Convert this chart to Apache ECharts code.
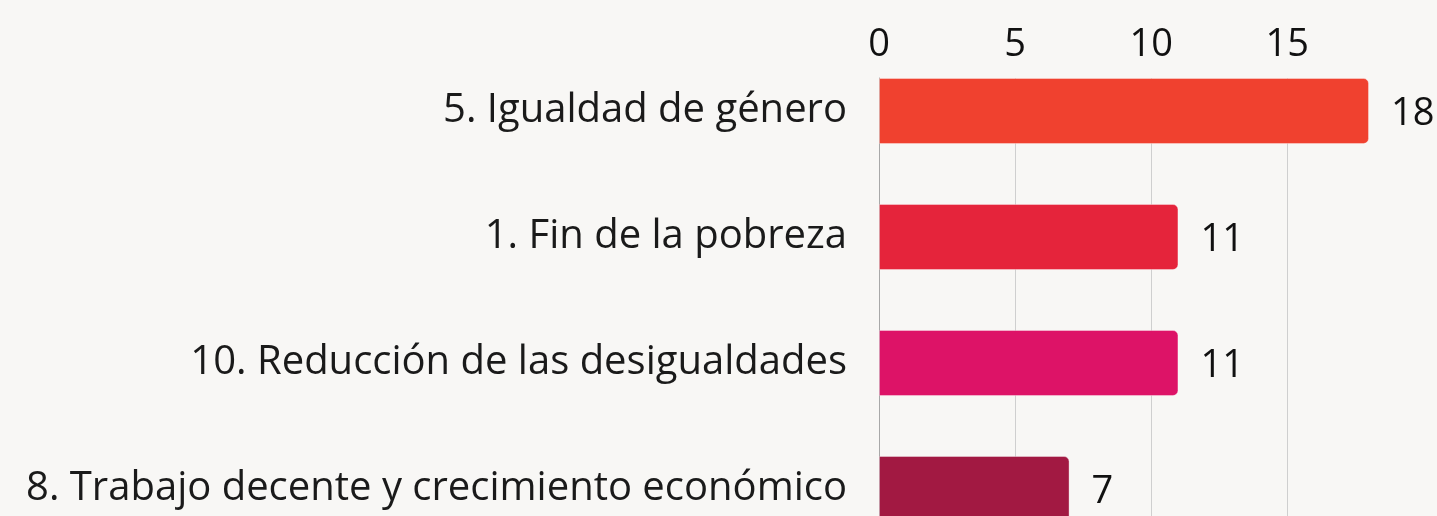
<!DOCTYPE html>
<html>
<head>
<meta charset="utf-8">
<script src="https://cdn.jsdelivr.net/npm/echarts@6/dist/echarts.min.js"></script>
<style>
  html, body { margin: 0; padding: 0; background: #f8f7f5; overflow: hidden; }
  #chart { width: 1437px; height: 600px; }
</style>
</head>
<body>
<div id="chart"></div>
<script>
// datos
var categorias = ['5. Igualdad de género', '1. Fin de la pobreza', '10. Reducción de las desigualdades', '8. Trabajo decente y crecimiento económico'];
var valores = [18, 11, 11, 7];
var colores = ['#f0412f', '#e5243b', '#dd1367', '#a21942'];
var ticksX = [0, 5, 10, 15];

var chart = echarts.init(document.getElementById('chart'));

var option = {
  backgroundColor: '#f8f7f5',
  textStyle: { fontFamily: 'Open Sans' },
  grid: { left: 879, right: 68, top: 78, bottom: 18, containLabel: false },
  xAxis: {
    type: 'value',
    position: 'top',
    min: 0,
    max: 18,
    interval: 5,
    axisLine: { show: false },
    axisTick: { show: false },
    axisLabel: {
      fontSize: 38, color: '#111', margin: 14, showMaxLabel: false,
      formatter: function (v) { return ticksX.indexOf(v) >= 0 ? String(v) : ''; }
    },
    splitLine: { show: true, showMinLine: false, showMaxLine: false, lineStyle: { color: '#cfcfcf', width: 1 } }
  },
  yAxis: {
    type: 'category',
    inverse: true,
    data: categorias,
    axisLine: { show: true, lineStyle: { color: '#a8a8a8', width: 1 } },
    axisTick: { show: false },
    // segunda linea vacia: sube el texto 30px para centrarlo en la barra
    axisLabel: {
      fontSize: 40, color: '#1a1a1a', margin: 32, lineHeight: 60,
      formatter: function (v) { return v + '\n '; }
    }
  },
  series: [
    {
      type: 'bar',
      barWidth: 66,
      barGap: 0,
      barCategoryGap: 0,
      data: valores.map(function (v, i) {
        return { value: v, itemStyle: { color: colores[i] } };
      }),
      itemStyle: { borderRadius: [0, 5, 5, 0], borderColor: 'rgba(255,255,255,0.35)', borderWidth: 1 },
      label: { show: true, position: 'right', distance: 22, fontSize: 38, color: '#111', offset: [0, 3] },
      silent: true
    },
    {
      // relleno invisible para que la barra quede arriba de su banda
      type: 'bar',
      barWidth: 60,
      data: valores.map(function () { return 0; }),
      itemStyle: { color: 'rgba(0,0,0,0)' },
      silent: true
    }
  ]
};

chart.setOption(option);
</script>
</body>
</html>
